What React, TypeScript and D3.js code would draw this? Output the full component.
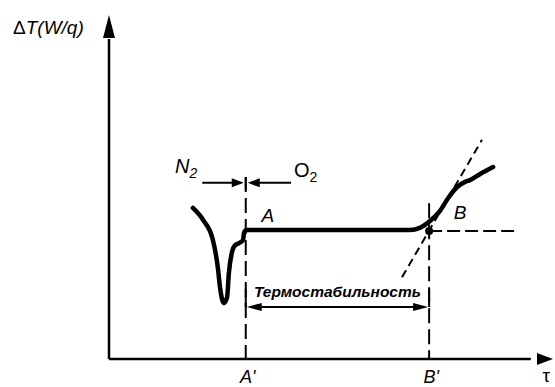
import React from "react";
import * as d3 from "d3";

// heat-flow curve (time units 0..100, signal units 0..100)
const curveTime = [
  18.9, 21.2, 23.4, 24.5, 25.0, 25.5, 25.9, 26.6, 27.0, 27.7, 28.4, 29.3, 30.2,
  30.4, 30.9, 67.8, 70.0, 72.3, 74.5, 76.4, 78.4, 80.2, 81.3, 83.6, 86.5,
];
const curveSignal = [
  43.9, 40.4, 34.6, 26.7, 20.9, 17.2, 16.3, 18.0, 25.0, 31.1, 33.1, 33.7, 34.6,
  36.6, 37.5, 37.5, 38.1, 40.1, 43.0, 46.8, 50.0, 51.5, 52.0, 53.8, 55.8,
];

const markTimes = [30.8, 72.1];
const markLabels = ["A'", "B'"];
const markTops = [52.9, 45.3];
const pointLabels = ["A", "B"];

const plateauLevel = 37.5;
const tangentTime = [66.0, 84.0];
const tangentSignal = [23.8, 63.7];
const baselineEnd = 92.1;

const gasLevel = 51.2;
const gasLabels = ["N", "O"];
const thermoLevel = 15.1;
const thermoText = "Термостабильность";

const W = 555;
const H = 387;
const font = "'Liberation Sans', Arial, sans-serif";

const x = d3.scaleLinear().domain([0, 100]).range([109, 553]);
const y = d3.scaleLinear().domain([0, 100]).range([359, 15]);

const arrowHead = (tx: number, ty: number, dx: number, dy: number, len: number, hw: number) => {
  const n = Math.hypot(dx, dy);
  const ux = dx / n;
  const uy = dy / n;
  const bx = tx - ux * len;
  const by = ty - uy * len;
  return `M${tx},${ty}L${bx - uy * hw},${by + ux * hw}L${bx + uy * hw},${by - ux * hw}Z`;
};

const App = () => {
  const pts = curveTime.map((t, i) => [t, curveSignal[i]] as [number, number]);
  const line = d3
    .line<[number, number]>()
    .x((d) => x(d[0]))
    .y((d) => y(d[1]))
    .curve(d3.curveMonotoneX);

  const x0 = x(0);
  const y0 = y(0);
  const xA = x(markTimes[0]);
  const xB = x(markTimes[1]);
  const yP = y(plateauLevel);
  const yGas = y(gasLevel);
  const yTh = y(thermoLevel);

  return (
    <svg width={W} height={H} style={{ position: "absolute", left: 0, top: 0, background: "#fff" }}>
      {/* axes */}
      <line x1={x0} y1={y0} x2={x0} y2={y(93)} stroke="#000" strokeWidth={2.5} />
      <path d={arrowHead(x0, y(100), 0, -1, 23, 6)} fill="#000" />
      <line x1={x0} y1={y0} x2={x(95)} y2={y0} stroke="#000" strokeWidth={2.5} />
      <path d={arrowHead(x(100), y0, 1, 0, 16, 6)} fill="#000" />

      <text x={13} y={34} fontFamily={font} fontSize={19} fontStyle="italic">
        <tspan fontStyle="normal">Δ</tspan>T(W/q)
      </text>
      <text x={x(98.5)} y={382} fontFamily={font} fontSize={19} textAnchor="middle">
        τ
      </text>

      {/* vertical markers */}
      {markTimes.map((t, i) => (
        <g key={i}>
          <line
            x1={x(t)}
            x2={x(t)}
            y1={y(markTops[i])}
            y2={y0}
            stroke="#000"
            strokeWidth={2}
            strokeDasharray="15 6"
          />
          <text
            x={x(t) + 2}
            y={383}
            fontFamily={font}
            fontSize={18}
            fontStyle="italic"
            textAnchor="middle"
          >
            {markLabels[i]}
          </text>
        </g>
      ))}

      {/* gas switch arrows */}
      <line x1={xA} x2={xA} y1={y(52.9)} y2={yGas + 7} stroke="#000" strokeWidth={2} />
      <line x1={x(21.0)} x2={xA - 10} y1={yGas} y2={yGas} stroke="#000" strokeWidth={2} />
      <path d={arrowHead(xA - 2, yGas, 1, 0, 12, 4.5)} fill="#000" />
      <line x1={xA + 10} x2={x(41.0)} y1={yGas} y2={yGas} stroke="#000" strokeWidth={2} />
      <path d={arrowHead(xA + 2, yGas, -1, 0, 12, 4.5)} fill="#000" />
      <text x={175} y={173} fontFamily={font} fontSize={20} fontStyle="italic">
        {gasLabels[0]}
        <tspan fontSize={14} dy={5}>2</tspan>
      </text>
      <text x={294} y={177} fontFamily={font} fontSize={20}>
        {gasLabels[1]}
        <tspan fontSize={14} dy={5}>2</tspan>
      </text>

      {/* baseline and tangent */}
      <line
        x1={xB}
        x2={x(baselineEnd)}
        y1={yP + 1}
        y2={yP + 1}
        stroke="#000"
        strokeWidth={2}
        strokeDasharray="13 5"
      />
      <line
        x1={x(tangentTime[0])}
        y1={y(tangentSignal[0])}
        x2={x(tangentTime[1])}
        y2={y(tangentSignal[1])}
        stroke="#000"
        strokeWidth={2}
        strokeDasharray="8 5"
      />

      {/* curve */}
      <path d={line(pts) ?? ""} fill="none" stroke="#000" strokeWidth={4.5} strokeLinejoin="round" strokeLinecap="round" />
      <circle cx={xB} cy={yP + 1} r={4} fill="#000" />

      <text x={xA + 22} y={222} fontFamily={font} fontSize={19} fontStyle="italic" textAnchor="middle">
        {pointLabels[0]}
      </text>
      <text x={xB + 31} y={219} fontFamily={font} fontSize={19} fontStyle="italic" textAnchor="middle">
        {pointLabels[1]}
      </text>

      {/* thermostability span */}
      <line x1={xA} x2={xA} y1={yTh - 18} y2={yTh} stroke="#000" strokeWidth={2} />
      <line x1={xB} x2={xB} y1={yTh - 18} y2={yTh} stroke="#000" strokeWidth={2} />
      <line x1={xA + 8} x2={xB - 8} y1={yTh} y2={yTh} stroke="#000" strokeWidth={2} />
      <path d={arrowHead(xA + 1, yTh, -1, 0, 15, 4)} fill="#000" />
      <path d={arrowHead(xB - 1, yTh, 1, 0, 15, 4)} fill="#000" />
      <text
        x={(xA + xB) / 2}
        y={297}
        fontFamily={font}
        fontSize={15.5}
        fontStyle="italic"
        fontWeight="bold"
        textAnchor="middle"
      >
        {thermoText}
      </text>
    </svg>
  );
};

export default App;
